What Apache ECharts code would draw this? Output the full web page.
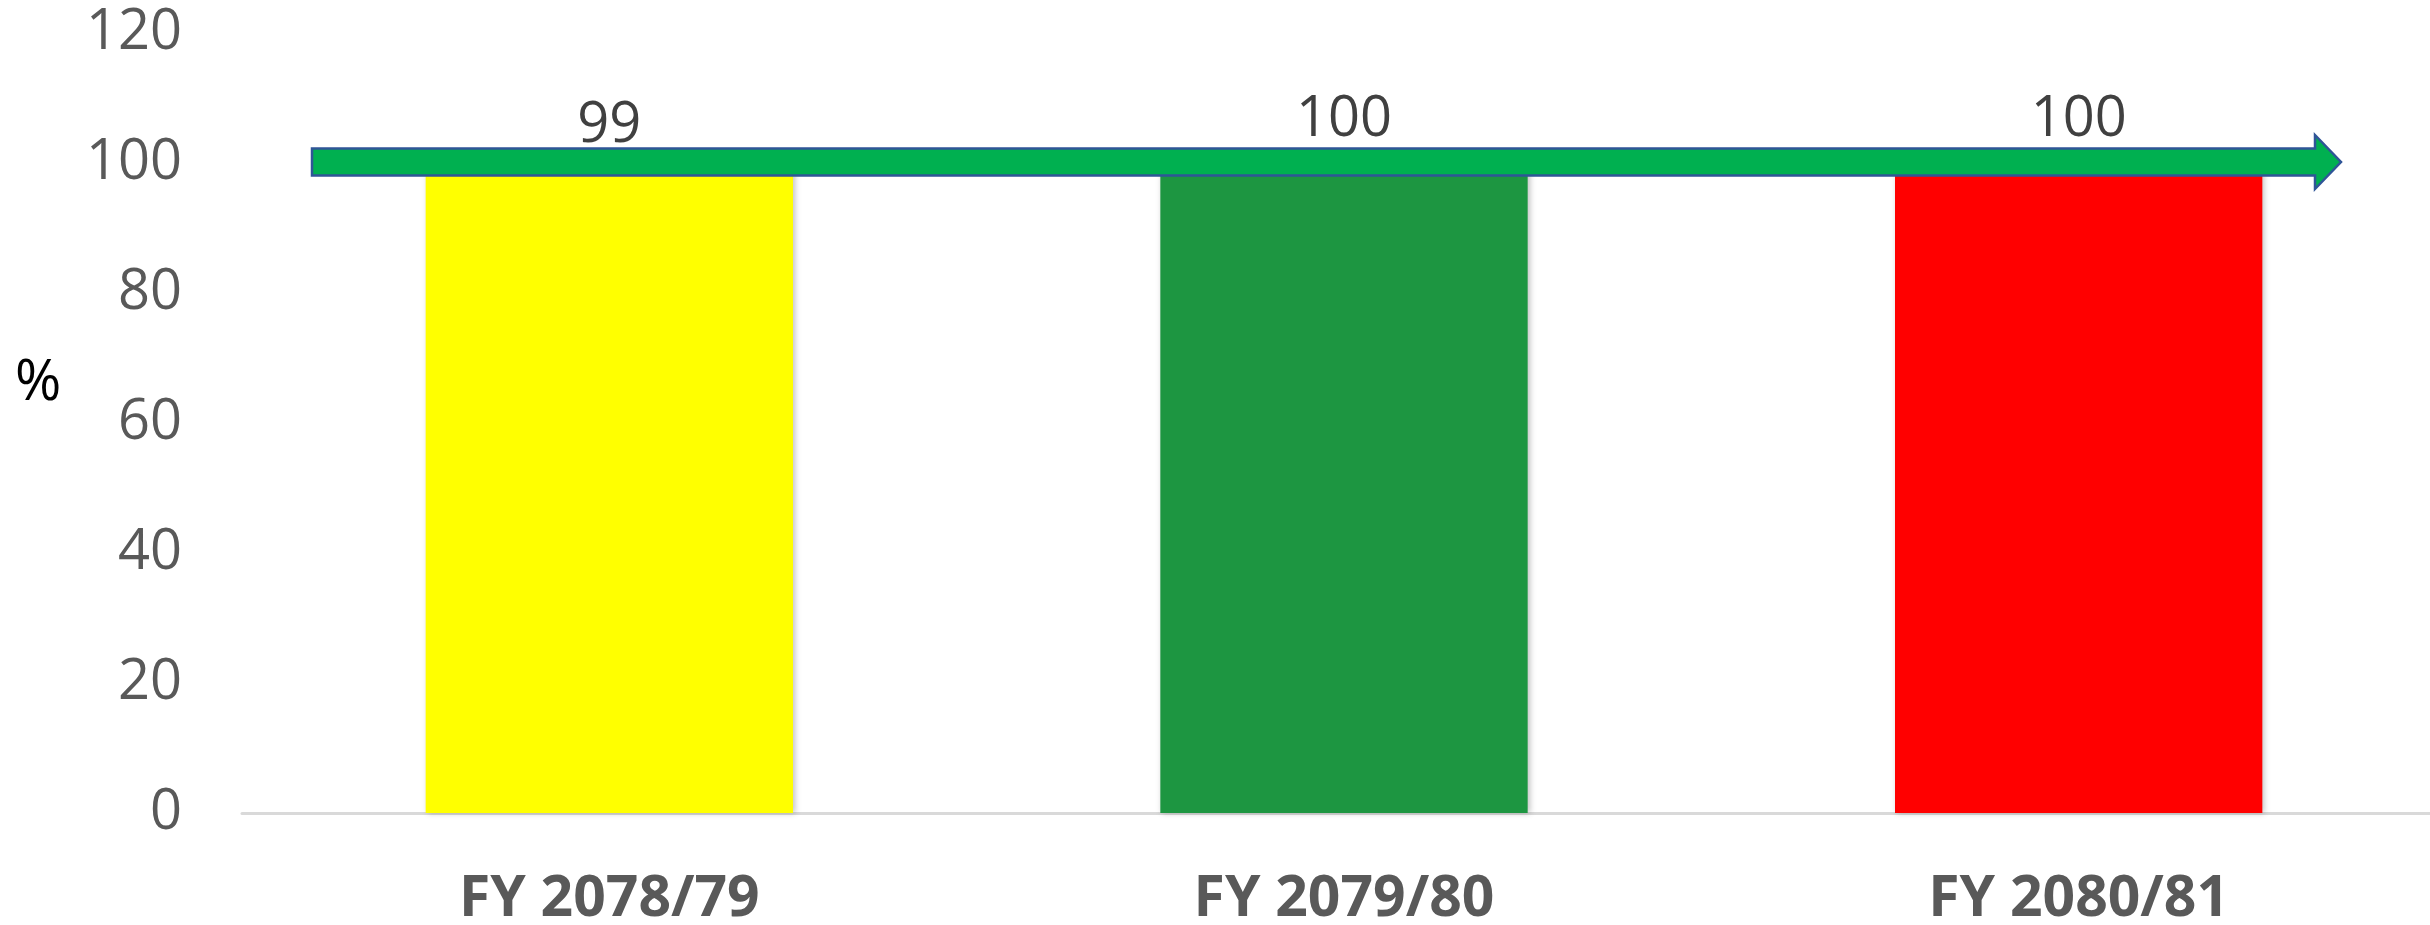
<!DOCTYPE html>
<html>
<head>
<meta charset="utf-8">
<script src="https://cdn.jsdelivr.net/npm/echarts@6/dist/echarts.min.js"></script>
<style>
  html, body { margin: 0; padding: 0; background: #fff; }
  #chart { width: 2430px; height: 925px; }
</style>
</head>
<body>
<div id="chart"></div>
<script>
// data
const categories = ['FY 2078/79', 'FY 2079/80', 'FY 2080/81'];
const values = [99, 100, 100];
const barColors = ['#FFFF00', '#1D9641', '#FF0000'];
const yTicks = [0, 20, 40, 60, 80, 100, 120];
const arrowLevel = 100;

const chart = echarts.init(document.getElementById('chart'));

const option = {
  animation: false,
  grid: { left: 242, right: -16, top: 33, bottom: 112, outerBoundsMode: 'none' },
  xAxis: {
    type: 'category',
    data: categories,
    axisLine: { lineStyle: { color: '#D9D9D9', width: 3 } },
    axisTick: { show: false },
    axisLabel: {
      color: '#595959',
      fontFamily: 'Open Sans',
      fontWeight: 'bold',
      fontSize: 57,
      margin: 58
    }
  },
  yAxis: {
    type: 'value',
    min: yTicks[0],
    max: yTicks[yTicks.length - 1],
    interval: 20,
    axisLine: { show: false },
    axisTick: { show: false },
    splitLine: { show: false },
    axisLabel: {
      color: '#595959',
      fontFamily: 'Open Sans',
      fontSize: 56,
      margin: 60
    }
  },
  series: [{
    type: 'bar',
    barWidth: '50%',
    data: values.map((v, i) => ({
      value: v,
      itemStyle: {
        color: barColors[i],
        shadowColor: 'rgba(0,0,0,0.25)',
        shadowBlur: 6,
        shadowOffsetX: 2
      }
    })),
    label: {
      show: true,
      position: 'top',
      distance: 15,
      color: '#404040',
      fontFamily: 'Open Sans',
      fontSize: 56
    }
  }]
};

chart.setOption(option);

// arrow across the bar tops + the "%" axis title
function drawExtras() {
  const c = chart.convertToPixel({ yAxisIndex: 0 }, arrowLevel) - 1;
  const x0 = 312, xNeck = 2315, xTip = 2341;
  const h = 13.5, hh = 27;
  chart.setOption({
    graphic: [{
      type: 'polygon',
      z: 100,
      shape: {
        points: [
          [x0, c - h], [xNeck, c - h], [xNeck, c - hh], [xTip, c],
          [xNeck, c + hh], [xNeck, c + h], [x0, c + h]
        ]
      },
      style: { fill: '#00B050', stroke: '#2F5597', lineWidth: 2.5 }
    }, {
      type: 'text',
      left: 15,
      top: 356,
      style: {
        text: '%',
        fill: '#000000',
        font: '56px "Open Sans"'
      }
    }]
  });
}
drawExtras();
</script>
</body>
</html>
